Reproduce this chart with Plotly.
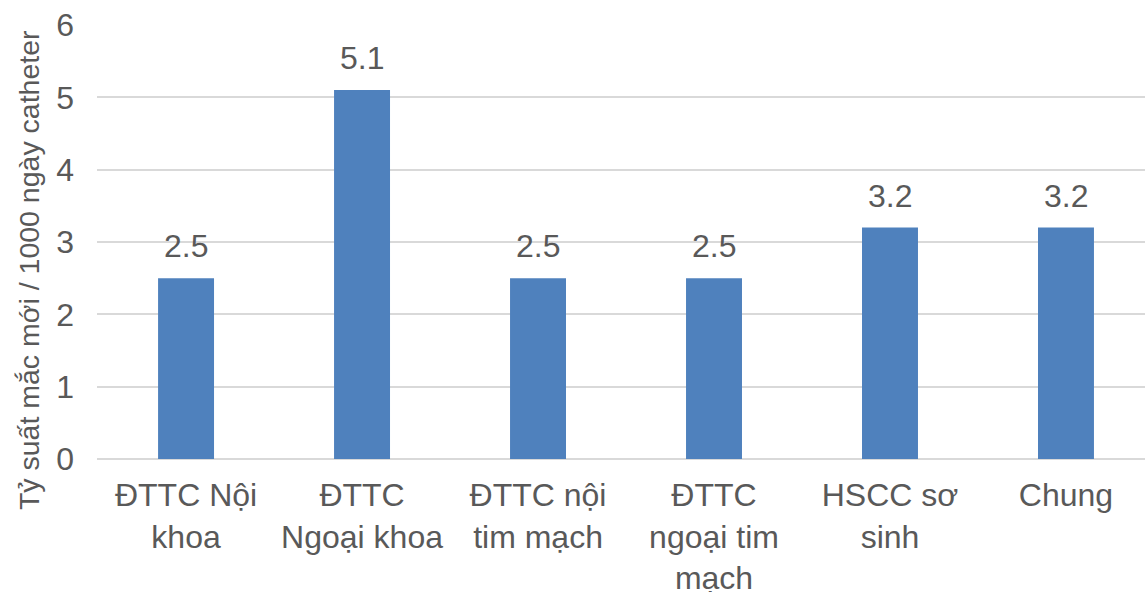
import plotly.graph_objects as go

categories = ["ĐTTC Nội<br>khoa", "ĐTTC<br>Ngoại khoa", "ĐTTC nội<br>tim mạch",
              "ĐTTC<br>ngoại tim<br>mạch", "HSCC sơ<br>sinh", "Chung"]
values = [2.5, 5.1, 2.5, 2.5, 3.2, 3.2]
value_labels = ["2.5", "5.1", "2.5", "2.5", "3.2", "3.2"]
y_title = "Tỷ suất mắc mới / 1000 ngày catheter"

FONT = "Liberation Sans, Arial, sans-serif"

fig = go.Figure(go.Bar(
    x=categories, y=values, width=0.318,
    marker=dict(color="#4F81BD", line=dict(width=0)),
    hoverinfo="skip",
))

annotations = [dict(
    x=c, y=v, text=t, xref="x", yref="y", showarrow=False,
    xanchor="center", yanchor="bottom", yshift=12,
    font=dict(family=FONT, size=32, color="#595959"),
) for c, v, t in zip(categories, values, value_labels)]

annotations.append(dict(
    text=y_title, textangle=-90, showarrow=False,
    xref="paper", yref="paper", x=-0.065, y=0.435,
    xanchor="center", yanchor="middle",
    font=dict(family=FONT, size=28.5, color="#595959"),
))

fig.update_layout(
    width=1145, height=592,
    margin=dict(l=97, r=0, t=25, b=133),
    paper_bgcolor="white", plot_bgcolor="white",
    showlegend=False,
    font=dict(family=FONT, color="#595959"),
    annotations=annotations,
)
fig.update_xaxes(
    range=[-0.506, 5.449], automargin=False,
    showline=False, showgrid=False, zeroline=False,
    tickfont=dict(family=FONT, size=32, color="#595959"),
    ticks="", ticklabelstandoff=14,
)
fig.update_yaxes(
    range=[0, 6], dtick=1, showgrid=True, gridcolor="#D9D9D9", gridwidth=2,
    zeroline=True, zerolinecolor="#D9D9D9", zerolinewidth=2,
    showline=False, ticks="", automargin=False,
    tickfont=dict(family=FONT, size=32, color="#595959"),
    ticklabelstandoff=22,
)

fig.write_html("out.html")
